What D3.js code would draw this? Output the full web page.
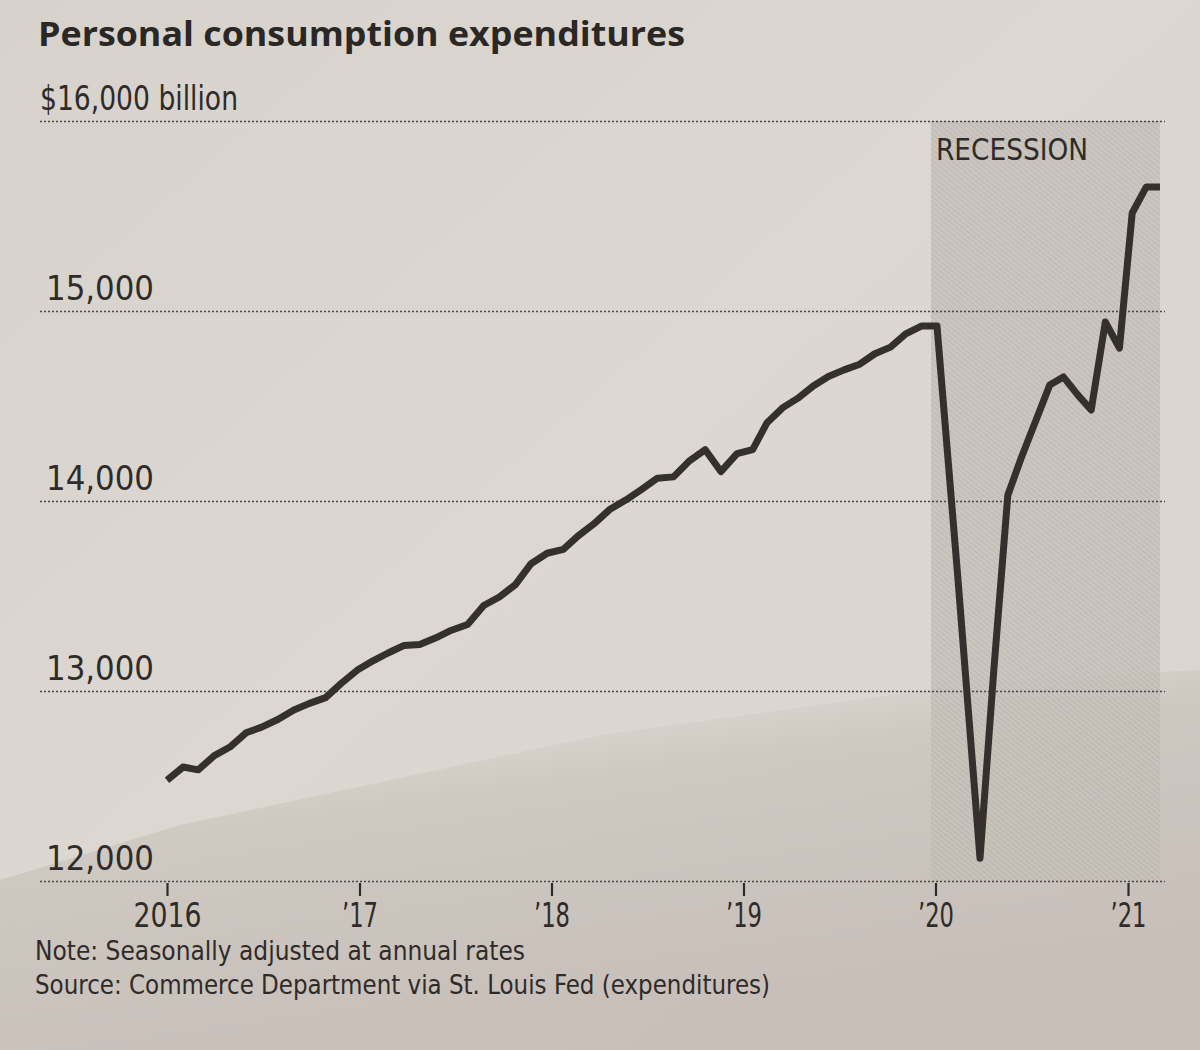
<!DOCTYPE html>
<html>
<head>
<meta charset="utf-8">
<script src="https://cdn.jsdelivr.net/npm/d3@7"></script>
<style>
  html, body { margin: 0; padding: 0; background: #d8d4cd; }
  svg { display: block; }
</style>
</head>
<body>
<svg id="chart" width="1200" height="1050"></svg>
<script>
// ---------------- DATA ----------------
const title = "Personal consumption expenditures";
const noteText = "Note: Seasonally adjusted at annual rates";
const sourceText = "Source: Commerce Department via St. Louis Fed (expenditures)";
const recessionLabel = "RECESSION";

// Monthly observations, Jan 2016 – May 2021 (billions of $, SAAR)
const startMonth = new Date(2016, 0, 1);
const endMonth = new Date(2021, 4, 1);
const pceValues = [
  // 2016
  12530, 12600, 12585, 12660, 12705, 12780, 12810, 12850, 12900, 12935, 12965, 13040,
  // 2017
  13110, 13160, 13200, 13240, 13245, 13280, 13320, 13350, 13450, 13495, 13560, 13670,
  // 2018
  13725, 13745, 13815, 13880, 13955, 14005, 14060, 14120, 14127, 14210, 14270, 14155,
  // 2019
  14249, 14270, 14410, 14490, 14540, 14605, 14655, 14690, 14720, 14775, 14810, 14880,
  // 2020
  14921, 14921, 13600, 12120, 13100, 14030, 14230, 14420, 14610, 14653, 14560, 14479,
  // 2021
  14942, 14805, 15516, 15653, 15653
];
const recessionStart = new Date(2020, 1, 1);
const yTicks = [12000, 13000, 14000, 15000, 16000];
const yTickLabels = ["12,000", "13,000", "14,000", "15,000", "$16,000 billion"];
const xTickDates = [2016, 2017, 2018, 2019, 2020, 2021].map(y => new Date(y, 0, 1));
const xTickLabels = ["2016", "\u201917", "\u201918", "\u201919", "\u201920", "\u201921"];

// ---------------- SETUP ----------------
const months = d3.timeMonth.range(startMonth, d3.timeMonth.offset(endMonth, 1));
const series = months.map((d, i) => ({ date: d, value: pceValues[i] }));

const svg = d3.select("#chart");
const W = 1200, H = 1050;

const condensed = "'Liberation Sans Narrow', 'DejaVu Sans Condensed', 'Roboto Condensed', 'Open Sans', sans-serif";
const ink = "#2e2b29";

// Paper background
const defs = svg.append("defs");
const paperGrad = defs.append("linearGradient").attr("id", "paper")
  .attr("x1", 0).attr("y1", 0).attr("x2", 1).attr("y2", 1);
paperGrad.append("stop").attr("offset", "0%").attr("stop-color", "#d7d3cc");
paperGrad.append("stop").attr("offset", "45%").attr("stop-color", "#dcd8d1");
paperGrad.append("stop").attr("offset", "100%").attr("stop-color", "#dad5cf");
svg.append("rect").attr("width", W).attr("height", H).attr("fill", "url(#paper)");

// lower shadow on the photographed paper
const shadowGrad = defs.append("linearGradient").attr("id", "shadow")
  .attr("gradientUnits", "userSpaceOnUse")
  .attr("x1", 600).attr("y1", 700).attr("x2", 640).attr("y2", 1000);
shadowGrad.append("stop").attr("offset", "0%").attr("stop-color", "#b9aea8").attr("stop-opacity", 0.0);
shadowGrad.append("stop").attr("offset", "25%").attr("stop-color", "#b9aea8").attr("stop-opacity", 0.35);
shadowGrad.append("stop").attr("offset", "100%").attr("stop-color", "#bbb0aa").attr("stop-opacity", 0.6);
svg.append("path")
  .attr("d", "M0,880 L180,825 L600,735 L1000,680 L1200,670 L1200,1050 L0,1050 Z")
  .attr("fill", "url(#shadow)");

// Recession hatch pattern
const pat = defs.append("pattern").attr("id", "hatch")
  .attr("patternUnits", "userSpaceOnUse").attr("width", 4).attr("height", 4)
  .attr("patternTransform", "rotate(-50)");
pat.append("rect").attr("width", 4).attr("height", 4).attr("fill", "#c6c1ba");
pat.append("line").attr("x1", 0).attr("y1", 0).attr("x2", 0).attr("y2", 4)
  .attr("stroke", "#aca79f").attr("stroke-width", 1.2);

// ---------------- SCALES ----------------
// Data placement (piecewise, following the printed chart's spacing)
const x = d3.scaleTime()
  .domain([startMonth, new Date(2019, 0, 1), new Date(2020, 1, 1), new Date(2020, 3, 1), endMonth])
  .range([167, 737, 937, 980, 1160]);
// Year tick placement as printed
const xAxisScale = d3.scaleTime()
  .domain([xTickDates[0], xTickDates[xTickDates.length - 1]])
  .range([167, 1128]);
const y = d3.scaleLinear().domain([12000, 16000]).range([881, 121]);

const gridLeft = 40, gridRight = 1165;

// ---------------- RECESSION ----------------
svg.append("rect")
  .attr("x", x(recessionStart) - 6)
  .attr("y", y(16000))
  .attr("width", x(endMonth) - x(recessionStart) + 6)
  .attr("height", y(12000) - y(16000))
  .attr("fill", "url(#hatch)")
  .attr("opacity", 0.8);

// ---------------- GRID + Y LABELS ----------------
const yAxis = d3.axisRight(y).tickValues(yTicks).tickSize(gridRight - gridLeft)
  .tickFormat((d, i) => yTickLabels[i]);
const gy = svg.append("g").attr("transform", `translate(${gridLeft},0)`).call(yAxis);
gy.select(".domain").remove();
gy.selectAll(".tick line")
  .attr("stroke", "#4a4643")
  .attr("stroke-width", 1.6)
  .attr("stroke-dasharray", "2,2");
gy.selectAll(".tick text")
  .attr("x", (d) => d === 16000 ? 0 : 6)
  .attr("dy", -12)
  .attr("text-anchor", "start")
  .attr("fill", ink)
  .style("font-family", condensed)
  .style("font-size", "33px");

// ---------------- X AXIS ----------------
const xAxis = d3.axisBottom(xAxisScale).tickValues(xTickDates)
  .tickFormat((d, i) => xTickLabels[i]).tickSize(13).tickPadding(8);
const gx = svg.append("g").attr("transform", `translate(0,${y(12000) + 2})`).call(xAxis);
gx.select(".domain").remove();
gx.selectAll(".tick line").attr("stroke", ink).attr("stroke-width", 2.2);
gx.selectAll(".tick text")
  .attr("fill", ink)
  .style("font-family", condensed)
  .style("font-size", "33px");

// ---------------- LINE ----------------
const line = d3.line().x(d => x(d.date)).y(d => y(d.value));
svg.append("path")
  .datum(series)
  .attr("d", line)
  .attr("fill", "none")
  .attr("stroke", "#34302d")
  .attr("stroke-width", 7)
  .attr("stroke-linejoin", "round")
  .attr("stroke-linecap", "butt");

// ---------------- TEXTS ----------------
svg.append("text").attr("class", "rec")
  .attr("x", x(recessionStart) - 1).attr("y", 160)
  .text(recessionLabel)
  .attr("fill", ink)
  .style("font-family", condensed)
  .style("font-size", "31px");

svg.append("text").attr("class", "title")
  .attr("x", 38).attr("y", 46)
  .text(title)
  .attr("fill", "#2a2725")
  .style("font-family", "'Open Sans', 'Lato', sans-serif")
  .style("font-weight", 700)
  .style("font-size", "34px");

svg.append("text").attr("class", "note")
  .attr("x", 35).attr("y", 960)
  .text(noteText)
  .attr("fill", ink)
  .style("font-family", condensed)
  .style("font-size", "27px");

svg.append("text").attr("class", "source")
  .attr("x", 35).attr("y", 994)
  .text(sourceText)
  .attr("fill", ink)
  .style("font-family", condensed)
  .style("font-size", "27px");

// fit widths to the printed (narrow) typeface
function fit(sel, w) {
  sel.each(function () {
    const len = this.getComputedTextLength();
    if (len > 0 && Math.abs(len - w) > 2) {
      d3.select(this).attr("textLength", w).attr("lengthAdjust", "spacingAndGlyphs");
    }
  });
}
fit(svg.select(".title"), 647);
fit(svg.select(".note"), 490);
fit(svg.select(".source"), 735);
fit(svg.select(".rec"), 152);
gy.selectAll(".tick text").each(function (d) {
  fit(d3.select(this), d === 16000 ? 198 : 108);
});
gx.selectAll(".tick text").each(function (d, i) {
  fit(d3.select(this), i === 0 ? 68 : 36);
});
</script>
</body>
</html>
